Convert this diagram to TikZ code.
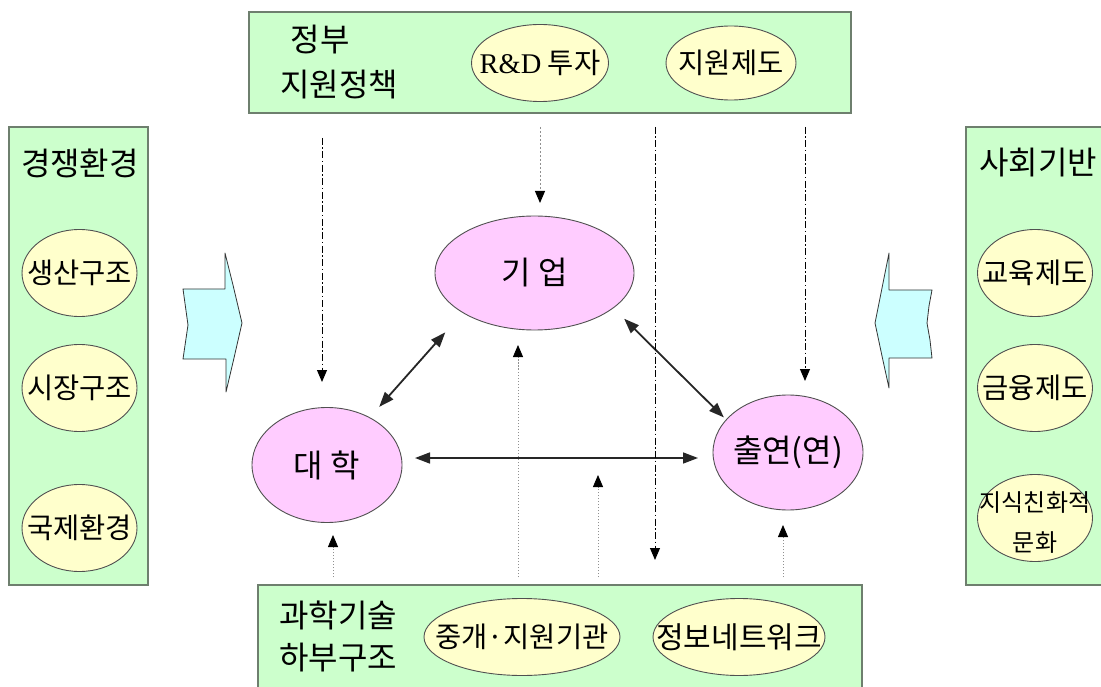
\documentclass[tikz,border=0pt]{standalone}
\usepackage{fontspec}
\setmainfont{Noto Sans CJK KR}
\newfontfamily\rdfont{Liberation Serif}
\usetikzlibrary{shapes.geometric,arrows.meta}
\definecolor{boxgreen}{HTML}{CCFFCC}
\definecolor{boxedge}{HTML}{6E7F6E}
\definecolor{ellyellow}{HTML}{FFFFCC}
\definecolor{ellpink}{HTML}{FFCCFF}
\definecolor{arrcyan}{HTML}{CCFFFF}
\definecolor{elledge}{HTML}{505050}
\definecolor{dotgrey}{HTML}{909090}
\newcommand\zw[1]{\makebox[0pt]{#1}}
\begin{document}
\begin{tikzpicture}[x=1pt,y=-1pt,
  greenbox/.style={rectangle, draw=boxedge, fill=boxgreen, line width=1.6pt, inner sep=0pt},
  factor/.style={ellipse, draw=elledge, fill=ellyellow, line width=0.9pt, inner sep=0pt, font=\fontsize{28.5}{32}\selectfont},
  sideell/.style={factor, minimum width=115pt, minimum height=87pt},
  actor/.style={ellipse, draw=elledge, fill=ellpink, line width=0.9pt, inner sep=0pt, font=\fontsize{32}{36}\selectfont},
  lbl/.style={inner sep=0pt, font=\fontsize{32}{36}\selectfont},
  smalltxt/.style={inner sep=0pt, font=\fontsize{24}{28}\selectfont},
  blockarrow/.style={draw=black!80, fill=arrcyan, line width=0.8pt, line join=round},
  arr/.style={-{Triangle[length=12pt,width=10pt,color=black,fill=black]}},
  dbl/.style={{Triangle[length=15pt,width=11pt]}-{Triangle[length=15pt,width=11pt]}, line width=1.8pt, draw=black!85},
  dashdot/.style={arr, line width=1pt, dash pattern=on 7pt off 2.5pt on 1.5pt off 2.5pt},
  greydash/.style={arr, line width=1pt, draw=dotgrey, dash pattern=on 2.5pt off 1.5pt},
  greydot/.style={arr, line width=0.8pt, draw=dotgrey, dash pattern=on 1.5pt off 1.5pt},
]
\path[use as bounding box] (0,0) rectangle (1101,687);
\clip (0,0) rectangle (1101,687);
\fill[white] (0,0) rectangle (1101,687);

% frame boxes
\node[greenbox, minimum width=602pt, minimum height=101pt] (gov) at (550,62.5) {};
\node[greenbox, minimum width=139pt, minimum height=458pt] (env) at (78.5,356) {};
\node[greenbox, minimum width=149pt, minimum height=458pt] (soc) at (1040.5,356) {};
\node[greenbox, minimum width=604pt, minimum height=115pt] (infra) at (560,642.5) {};

% top box contents
\node[lbl] (govA) at (320,40) {정부};
\node[lbl] (govB) at (339,85) {지원정책};
\node[factor, minimum width=137pt, minimum height=77pt] (rnd) at (540,63) {\zw{{\rdfont R\&D} 투자}};
\node[factor, minimum width=130pt, minimum height=74pt] (sup) at (731,63) {\zw{지원제도}};

% left box contents
\node[lbl] (envT) at (80,163) {경쟁환경};
\node[sideell] (prod) at (79.5,273) {\zw{생산구조}};
\node[sideell] (mkt) at (79.5,388) {\zw{시장구조}};
\node[sideell] (intl) at (79.5,528) {\zw{국제환경}};

% right box contents
\node[lbl] (socT) at (1038,163) {사회기반};
\node[sideell] (edu) at (1035,273) {\zw{교육제도}};
\node[sideell] (fin) at (1035,388) {\zw{금융제도}};
\node[sideell] (cult) at (1035,518) {};
\node[smalltxt] (cultA) at (1035,503) {지식친화적};
\node[smalltxt] (cultB) at (1035,543) {문화};

% bottom box contents
\node[lbl] (sciA) at (338,615) {과학기술};
\node[lbl] (sciB) at (338,658) {하부구조};
\node[factor, minimum width=196pt, minimum height=77pt] (inter) at (522,637) {\zw{중개·지원기관}};
\node[factor, minimum width=172pt, minimum height=77pt, font=\fontsize{30}{34}\selectfont] (net) at (739,637) {\zw{정보네트워크}};

% central actors
\node[actor, minimum width=199pt, minimum height=114pt] (giup) at (534.5,273) {\zw{기 업}};
\node[actor, minimum width=150pt, minimum height=115pt] (daehak) at (327,465) {\zw{대 학}};
\node[actor, minimum width=150pt, minimum height=115pt] (chul) at (788,452.5) {\zw{출연(연)}};

% block arrows
\draw[blockarrow] (183,289) -- (225,289) -- (225,253) -- (233,285) -- (242,323) -- (234,358) -- (226,392) -- (226,359) -- (183,359) -- (188,325) -- cycle;
\draw[blockarrow] (875,323) -- (882,288) -- (889,253) -- (889,290) -- (932,290) -- (929,306) -- (927,323) -- (930,340) -- (932,358) -- (889,358) -- (889,388) -- (882,356) -- cycle;

% relations between actors
\draw[dbl, shorten <=14pt, shorten >=26pt] (daehak.48) -- (giup.209);
\draw[dbl, shorten <=15pt, shorten >=3pt] (giup.336) -- (chul.152);
\coordinate (hL) at (415,458);
\coordinate (hR) at (698,458);
\draw[dbl, line width=1.6pt] (hL) -- (hR);

% policy influences from the top
\coordinate (t1s) at (322,138);
\coordinate (t1e) at (322,382);
\coordinate (t2s) at (540,127);
\coordinate (t2e) at (540,203);
\coordinate (t3s) at (655,127);
\coordinate (t3e) at (655,560);
\coordinate (t4s) at (805,127);
\coordinate (t4e) at (805,381);
\draw[dashdot] (t1s) -- (t1e);
\draw[greydash] (t2s) -- (t2e);
\draw[dashdot] (t3s) -- (t3e);
\draw[dashdot] (t4s) -- (t4e);

% infrastructure influences from the bottom
\coordinate (b1s) at (333,577);
\coordinate (b1e) at (333,535);
\coordinate (b2s) at (518,577);
\coordinate (b2e) at (518,345);
\coordinate (b3s) at (598,577);
\coordinate (b3e) at (598,475);
\coordinate (b4s) at (783,577);
\coordinate (b4e) at (783,525);
\draw[greydot] (b1s) -- (b1e);
\draw[greydot] (b2s) -- (b2e);
\draw[greydot] (b3s) -- (b3e);
\draw[greydot] (b4s) -- (b4e);
\end{tikzpicture}
\end{document}
